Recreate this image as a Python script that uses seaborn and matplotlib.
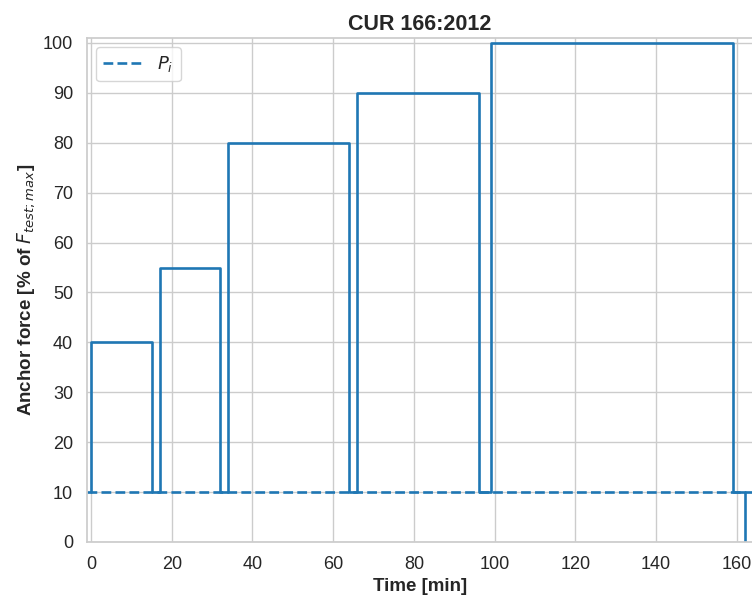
import numpy as np
import pandas as pd
import matplotlib
matplotlib.use("Agg")
import matplotlib.pyplot as plt
import seaborn as sns

# Load steps of the test programme: (start time [min], force [% of F_test;max])
step_times = [0, 15, 17, 32, 34, 64, 66, 96, 99, 159, 162]
step_forces = [40, 10, 55, 10, 80, 10, 90, 10, 100, 10, 0]
initial_force = 10  # P_i
end_time = 164

# Build the step-shaped load path
t = [0]
f = [initial_force]
for ti, fi in zip(step_times, step_forces):
    t += [ti, ti]
    f += [f[-1], fi]
path = pd.DataFrame({"Time": t, "Force": f})

sns.set_theme(style="whitegrid")
plt.rcParams["font.family"] = ["Liberation Sans", "DejaVu Sans"]

fig = plt.figure(figsize=(7.52, 6.02), dpi=100)
ax = fig.add_axes([87 / 752, 60 / 602, 666 / 752, 504 / 602])

blue = "#1f77b4"
sns.lineplot(data=path, x="Time", y="Force", sort=False, estimator=None,
             color=blue, lw=1.9, ax=ax)
ax.axhline(initial_force, color=blue, lw=1.9, ls="--", label="$P_i$")

ax.set_xlim(-1, end_time)
ax.set_ylim(0, 101)
ax.set_xticks(np.arange(0, 161, 20))
ax.set_yticks(np.arange(0, 101, 10))
ax.tick_params(labelsize=13, pad=4)
ax.set_xlabel("Time [min]", fontsize=13.5, fontweight="bold")
ax.set_ylabel("Anchor force [% of $F_{test;max}$]", fontsize=13.5, fontweight="bold")
ax.set_title("CUR 166:2012", fontsize=15.5, fontweight="bold")
ax.legend(loc="upper left", fontsize=13, handlelength=2.2)

fig.savefig("out.png", dpi=100)
